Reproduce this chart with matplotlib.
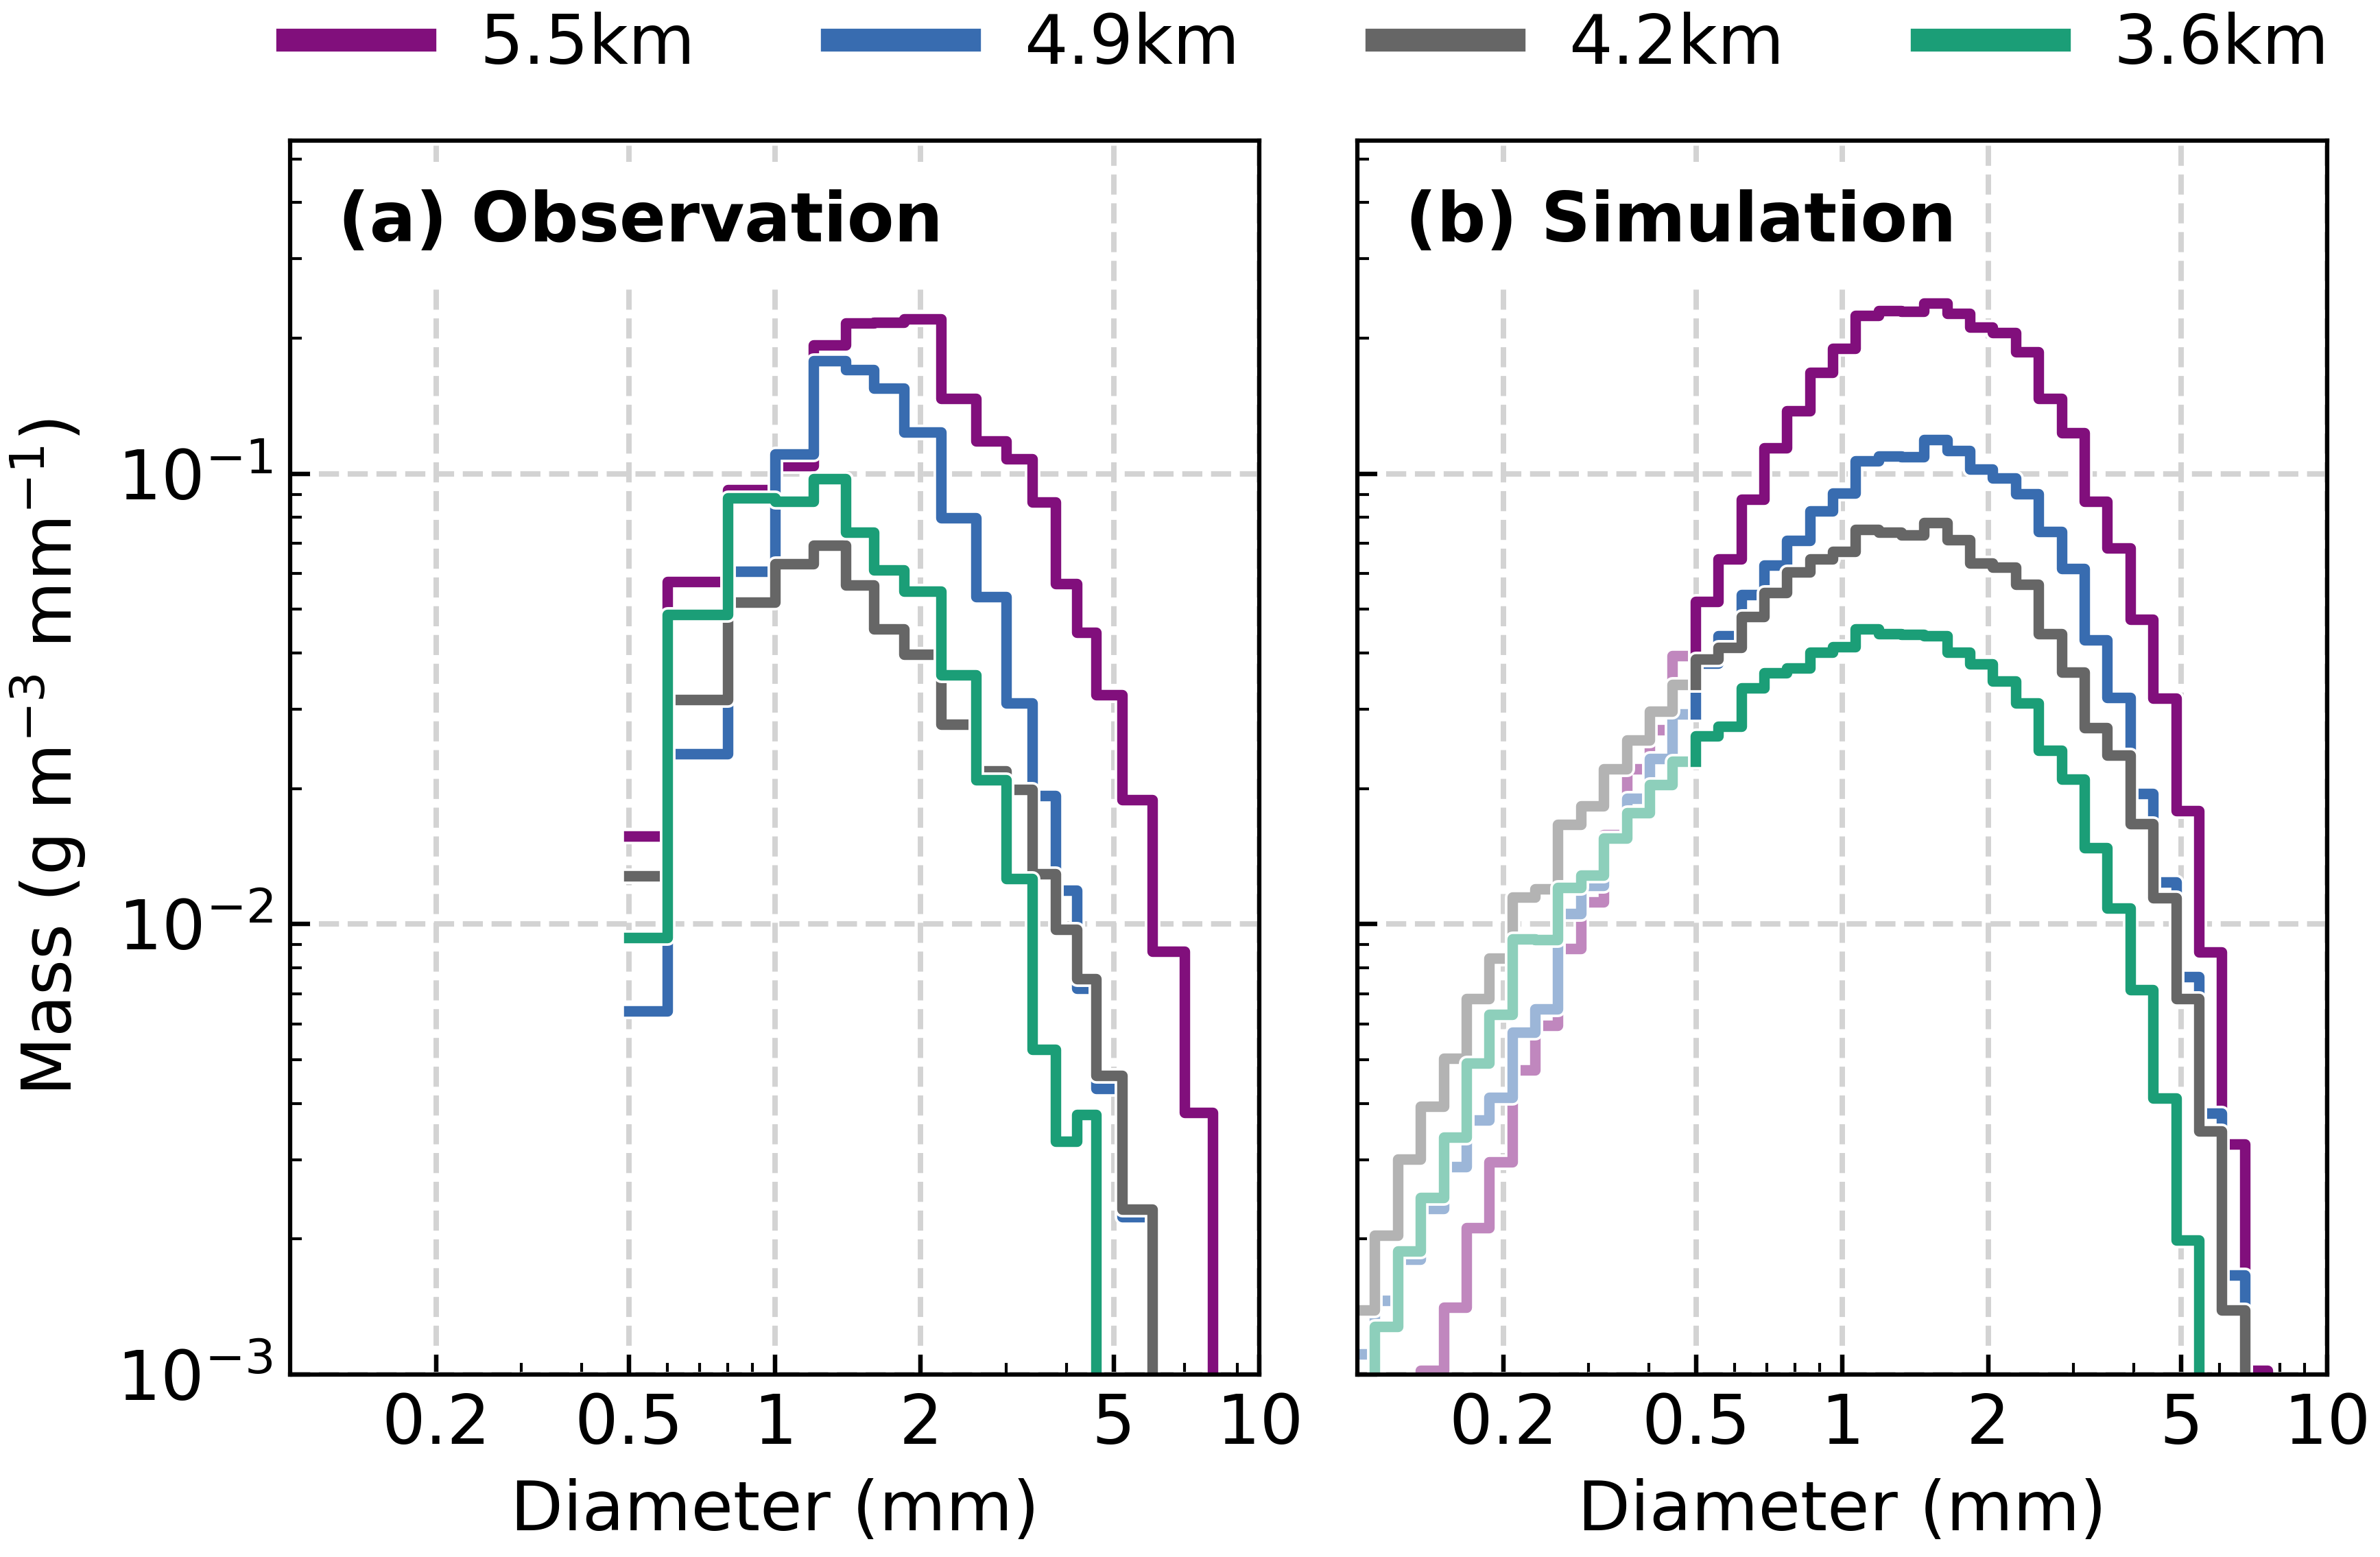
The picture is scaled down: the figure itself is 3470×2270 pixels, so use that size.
import numpy as np
import matplotlib
matplotlib.use("Agg")
import matplotlib.pyplot as plt
import matplotlib.patheffects as pe
import matplotlib.colors as mcolors
from matplotlib.ticker import FixedLocator, FixedFormatter, NullFormatter

# ---------------- data ----------------
labels = ["5.5km", "4.9km", "4.2km", "3.6km"]
colors = ["#810f7c", "#386cb0", "#666666", "#1b9e77"]

# (a) Observation: bin edges (mm) and mass per bin (g m-3 mm-1)
obs_edges = [0.5, 0.6, 0.8, 1.0, 1.2, 1.4, 1.6, 1.85, 2.2, 2.6, 3.0, 3.4,
             3.8, 4.2, 4.6, 5.2, 6.0, 7.0, 8.0]
obs_55 = [0.0157, 0.0577, 0.092, 0.104, 0.193, 0.216, 0.217, 0.221, 0.147,
          0.118, 0.108, 0.0864, 0.0569, 0.0444, 0.0323, 0.0189, 0.0087, 0.00382]
obs_49 = [0.00642, 0.0239, 0.0608, 0.1105, 0.178, 0.1705, 0.155, 0.1236,
          0.0797, 0.0533, 0.031, 0.0193, 0.01187, 0.0072, 0.00431, 0.00224,
          0.0, 0.0]
obs_42 = [0.0128, 0.0315, 0.0518, 0.063, 0.0694, 0.0566, 0.0453, 0.0397,
          0.0278, 0.0219, 0.0199, 0.01293, 0.00975, 0.00757, 0.00461, 0.00233,
          0.0, 0.0]
obs_36 = [0.00933, 0.0486, 0.0882, 0.0868, 0.0973, 0.0741, 0.0611, 0.0548,
          0.0357, 0.0209, 0.01262, 0.00527, 0.0033, 0.00378, 0.0, 0.0, 0.0, 0.0]

# (b) Simulation: bin edges (mm) and mass per bin
sim_edges = [0.0975, 0.1087, 0.1212, 0.1351, 0.1506, 0.1679, 0.1872, 0.2087,
             0.2326, 0.2594, 0.2892, 0.3224, 0.3594, 0.4007, 0.4468, 0.4981,
             0.5553, 0.6191, 0.6903, 0.7696, 0.8580, 0.9552, 1.0649, 1.1873,
             1.3237, 1.4757, 1.6453, 1.8343, 2.0450, 2.2800, 2.5420, 2.8340,
             3.1597, 3.5227, 3.9274, 4.3786, 4.8817, 5.4426, 6.0679, 6.7650,
             7.5423]
sim_55 = [0.0005, 0.0006, 0.0008, 0.00102, 0.00141, 0.00212, 0.00297, 0.00474,
          0.00595, 0.00883, 0.0112, 0.0158, 0.0221, 0.027, 0.0394,
          0.0521, 0.0646, 0.0878, 0.1142, 0.1378, 0.1681, 0.1898, 0.2249,
          0.2302, 0.229, 0.2395, 0.227, 0.2114, 0.2057, 0.1865, 0.147, 0.1231,
          0.0869, 0.0685, 0.0475, 0.0317, 0.01786, 0.00867, 0.00325, 0.00102]
sim_49 = [0.00111, 0.00146, 0.0018, 0.00234, 0.00289, 0.00367, 0.00412, 0.00576,
          0.00648, 0.01056, 0.0122, 0.0155, 0.019, 0.0233, 0.0293,
          0.038, 0.0437, 0.0538, 0.0626, 0.071, 0.0826, 0.0904, 0.1067,
          0.1096, 0.109, 0.119, 0.1124, 0.1024, 0.0979, 0.0901, 0.0745, 0.0615,
          0.0428, 0.0318, 0.0195, 0.01241, 0.00765, 0.00381, 0.00166, 0.0]
sim_42 = [0.00139, 0.00204, 0.00301, 0.00394, 0.00504, 0.00683, 0.0084, 0.01147,
          0.01199, 0.01662, 0.01829, 0.02211, 0.02562, 0.0297, 0.03407,
          0.0387, 0.0412, 0.0481, 0.0545, 0.0604, 0.0647, 0.0673, 0.0752,
          0.0742, 0.0732, 0.0779, 0.0714, 0.0634, 0.0619, 0.0568, 0.0442, 0.0363,
          0.0273, 0.0237, 0.01668, 0.01145, 0.00682, 0.00347, 0.00139, 0.0]
sim_36 = [0.0008, 0.00128, 0.00188, 0.00247, 0.00337, 0.00491, 0.0063, 0.00927,
          0.00925, 0.01205, 0.01282, 0.01553, 0.01764, 0.0204, 0.0230,
          0.0262, 0.0275, 0.0335, 0.0361, 0.0370, 0.0401, 0.0413, 0.0452,
          0.0442, 0.0440, 0.0436, 0.0401, 0.0378, 0.0347, 0.0310, 0.0243, 0.0210,
          0.01475, 0.01084, 0.00714, 0.00411, 0.00199, 0.0, 0.0, 0.0]

sim_split_d = 0.49          # below this diameter the simulated curve is faded

x_ticks = [0.2, 0.5, 1, 2, 5, 10]
x_ticklabels = ["0.2", "0.5", "1", "2", "5", "10"]

# ---------------- style ----------------
LW = 3.7
FS = 24
plt.rcParams["font.family"] = ["DejaVu Sans"]


def lighten(c, a=0.5):
    r, g, b = mcolors.to_rgb(c)
    return (1 - a + a * r, 1 - a + a * g, 1 - a + a * b)


def step_xy(edges, vals, start_val=None, drop=True):
    edges = np.asarray(edges, float)
    vals = np.asarray(vals, float)
    pos = np.nonzero(vals > 0)[0]
    last = pos[-1]
    e = edges[:last + 2]
    v = vals[:last + 1]
    xs = np.repeat(e, 2)[1:-1]
    ys = np.repeat(v, 2)
    if start_val is not None:
        xs = np.concatenate([[e[0]], xs])
        ys = np.concatenate([[start_val], ys])
    if drop:
        xs = np.concatenate([xs, [e[-1]]])
        ys = np.concatenate([ys, [0.0]])
    return xs, ys


def draw(ax, xs, ys, color, label=None):
    return ax.plot(xs, ys, color=color, lw=LW, label=label,
                   solid_joinstyle="round", solid_capstyle="projecting",
                   path_effects=[pe.Stroke(linewidth=LW + 1.8, foreground="white"),
                                 pe.Normal()])[0]


fig = plt.figure(figsize=(3470 / 300, 2270 / 300), dpi=300)
ax1 = fig.add_axes([0.12187, 0.11718, 0.40732, 0.79273])
ax2 = fig.add_axes([0.57026, 0.11718, 0.40749, 0.79273], sharey=ax1)

for ax in (ax1, ax2):
    ax.set_xscale("log")
    ax.set_yscale("log", nonpositive="clip")

# (a) observation
handles = []
for vals, col, lab in zip([obs_55, obs_49, obs_42, obs_36], colors, labels):
    xs, ys = step_xy(obs_edges, vals)
    handles.append(draw(ax1, xs, ys, col, lab))

# (b) simulation
sim_e = np.asarray(sim_edges)
split = int(np.searchsorted(sim_e, sim_split_d))
for vals, col in zip([sim_55, sim_49, sim_42, sim_36], colors):
    v = np.asarray(vals)
    xs, ys = step_xy(sim_e[:split + 1], v[:split], drop=False)
    draw(ax2, xs, ys, lighten(col))
    xs, ys = step_xy(sim_e[split:], v[split:], start_val=v[split - 1])
    draw(ax2, xs, ys, col)

for ax, title in ((ax1, "(a) Observation"), (ax2, "(b) Simulation")):
    ax.set_xlim(0.1, 10)
    ax.set_ylim(1e-3, 0.55)
    ax.xaxis.set_major_locator(FixedLocator(x_ticks))
    ax.xaxis.set_major_formatter(FixedFormatter(x_ticklabels))
    ax.xaxis.set_minor_formatter(NullFormatter())
    ax.yaxis.set_minor_formatter(NullFormatter())
    ax.tick_params(which="both", direction="in", top=False, right=False,
                   labelsize=FS, pad=6)
    ax.tick_params(which="major", length=7, width=1.5)
    ax.tick_params(which="minor", length=4, width=1.0)
    for s in ax.spines.values():
        s.set_linewidth(1.5)
    ax.grid(True, which="major", ls="--", color="lightgray", lw=1.9)
    ax.set_xlabel("Diameter (mm)", fontsize=FS, labelpad=7)
    ax.text(0.0495, 0.96, title, transform=ax.transAxes, fontsize=FS,
            fontweight="bold", va="top", ha="left", zorder=5,
            bbox=dict(facecolor="white", edgecolor="none", pad=9.5))

ax2.tick_params(axis="y", which="both", labelleft=False)
ax1.set_ylabel("Mass (g m$^{-3}$ mm$^{-1}$)", fontsize=FS, labelpad=10)

leg = fig.legend(handles, labels, loc="center", bbox_to_anchor=(0.5497, 0.9711),
                 ncol=4, frameon=False, fontsize=FS)
for l in leg.get_lines():
    l.set_linewidth(8)

fig.savefig("out.png", dpi=300)
